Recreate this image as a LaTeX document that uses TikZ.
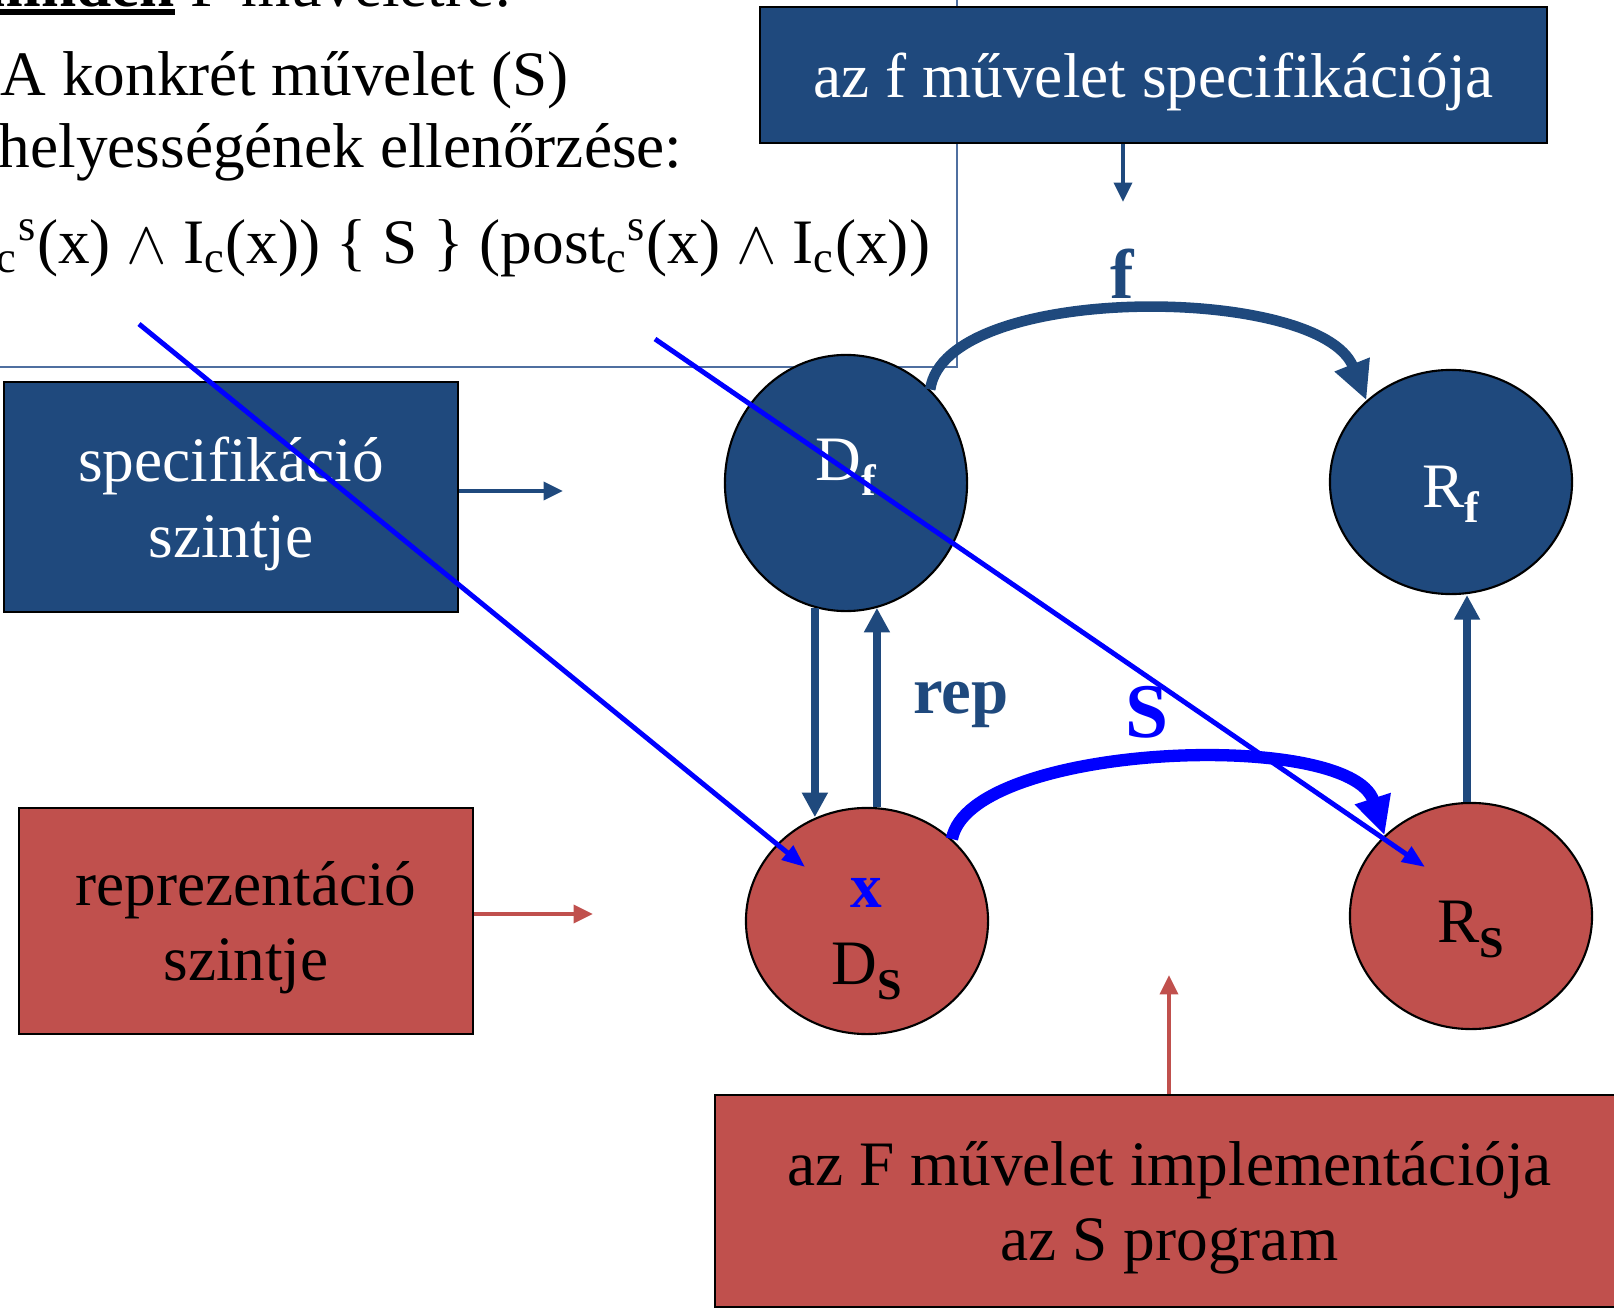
\documentclass[tikz,border=0pt]{standalone}
\usepackage{fontspec}
\setmainfont{Liberation Serif}
\usetikzlibrary{arrows.meta,shapes.geometric}
\definecolor{Navy}{HTML}{1F497D}
\definecolor{Brick}{HTML}{C0504D}
\definecolor{Steel}{HTML}{4F6FA0}
\definecolor{Pure}{HTML}{0000FF}
\newsavebox{\ulbox}
\newcommand{\ulbold}[1]{\sbox{\ulbox}{\bfseries #1}\rlap{\rule[-0.08cm]{\wd\ulbox}{0.06cm}}\usebox{\ulbox}}
\newcommand{\lowb}[1]{\raisebox{-4.5pt}{\fontsize{12.5}{14}\selectfont\bfseries #1}}

\begin{document}
\begin{tikzpicture}[x=0.01cm,y=-0.01cm,
    box/.style={draw=black,line width=.7pt,inner sep=0pt,align=center,text depth=0pt,font=\fontsize{18}{21.6}\selectfont},
    blob/.style={ellipse,draw=black,line width=.6pt,inner sep=0pt,minimum width=2.42cm,minimum height=2.26cm},
    lbl/.style={anchor=base,inner sep=0pt,font=\fontsize{18}{21.6}\selectfont},
    txt/.style={anchor=base west,inner sep=0pt,font=\fontsize{18}{21.6}\selectfont},
    rim/.style={draw=Steel,line width=.6pt},
    lean/.style={-{Triangle[length=5.5pt,width=5pt]},line width=1.3pt},
    fat/.style={-{Triangle[length=7pt,width=7pt]},line width=2.2pt,draw=Navy},
    bow/.style={-{Triangle[length=11pt,width=10pt]},line width=3pt},
    ray/.style={-{Triangle[length=6.5pt,width=5pt]},line width=1.4pt,draw=Pure}
  ]
    \useasboundingbox (0,0) rectangle (1614,1312);
    \draw[rim] (-5,367) -| (957,-5);
    \node[txt] (head) at (-30,7) {\ulbold{minden} F műveletre:};
    \node[txt] (line1) at (0,95) {A konkrét művelet (S)};
    \node[txt] (line2) at (-2,167) {helyességének ellenőrzése:};
    \node[txt] (cond) at (-4,263) {\textsubscript{c}\textsuperscript{s}(x) $\wedge$ I\textsubscript{c}(x)) \{ S \} (post\textsubscript{c}\textsuperscript{s}(x) $\wedge$ I\textsubscript{c}(x))};
    \node[box,fill=Navy,text=white,minimum width=7.87cm,minimum height=1.36cm] (fspec) at (1153.5,75) {az f művelet specifikációja};
    \node[box,fill=Navy,text=white,minimum width=4.54cm,minimum height=2.30cm] (spec) at (231,497) {specifikáció\\szintje};
    \node[box,fill=Brick,minimum width=4.54cm,minimum height=2.26cm] (repr) at (246,921) {reprezentáció\\szintje};
    \node[box,fill=Brick,minimum width=9.09cm,minimum height=2.12cm] (impl) at (1169.5,1201) {az F művelet implementációja\\az S program};
    \node[blob,fill=Navy,minimum height=2.56cm] (Df) at (846,483) {};
    \node[blob,fill=Navy,minimum height=2.24cm] (Rf) at (1451,482) {};
    \node[blob,fill=Brick] (Ds) at (867,921) {};
    \node[blob,fill=Brick] (Rs) at (1471,916) {};
    \node[lbl,text=white] (DfT) at (846,480) {D\lowb{f}};
    \node[lbl,text=white] (RfT) at (1451,507) {R\lowb{f}};
    \node[lbl,text=Pure,font=\fontsize{18}{21.6}\selectfont\bfseries] (xT) at (866,907) {x};
    \node[lbl] (DsT) at (867,984) {D\lowb{S}};
    \node[lbl] (RsT) at (1471,942) {R\lowb{S}};
    \coordinate (specEnd) at (563,491); \coordinate (reprEnd) at (593,914);
    \coordinate (fspecEnd) at (1123,202); \coordinate (implEnd) at (1169,975);
    \draw[lean,draw=Navy] (spec.east |- specEnd) -- (specEnd); \draw[lean,draw=Brick] (repr.east |- reprEnd) -- (reprEnd);
    \draw[lean,draw=Navy] (fspec.south -| fspecEnd) -- (fspecEnd); \draw[lean,draw=Brick] (impl.north -| implEnd) -- (implEnd);
    \draw[fat] (Df.256) -- (Df.256 |- Ds.116); \draw[fat] (Ds.85) -- (Ds.85 |- Df.284);
    \draw[fat] (Rs.92) -- (Rs.92 |- Rf.272);
    \draw[bow,draw=Navy] (Df.48) .. controls (945,282) and (1320,284) .. (Rf.136);
    \draw[bow,line width=3.5pt,draw=Pure] (Ds.44) .. controls (970,743) and (1350,728) .. (Rs.137);
    \node[lbl,text=Navy,font=\fontsize{20}{24}\selectfont\bfseries] (fT) at (1122,298) {f};
    \node[lbl,text=Navy,font=\fontsize{19}{23}\selectfont\bfseries] (repT) at (961,713) {rep};
    \node[lbl,text=Pure,font=\fontsize{22}{26}\selectfont\bfseries] (ST) at (1147,737) {S};
    \coordinate (pre) at (139,324); \coordinate (post) at (655,339);
    \coordinate (xIn) at (805,867); \coordinate (rIn) at (1425,867);
    \draw[ray] (pre) -- (xIn); \draw[ray] (post) -- (rIn);
  \end{tikzpicture}
\end{document}
